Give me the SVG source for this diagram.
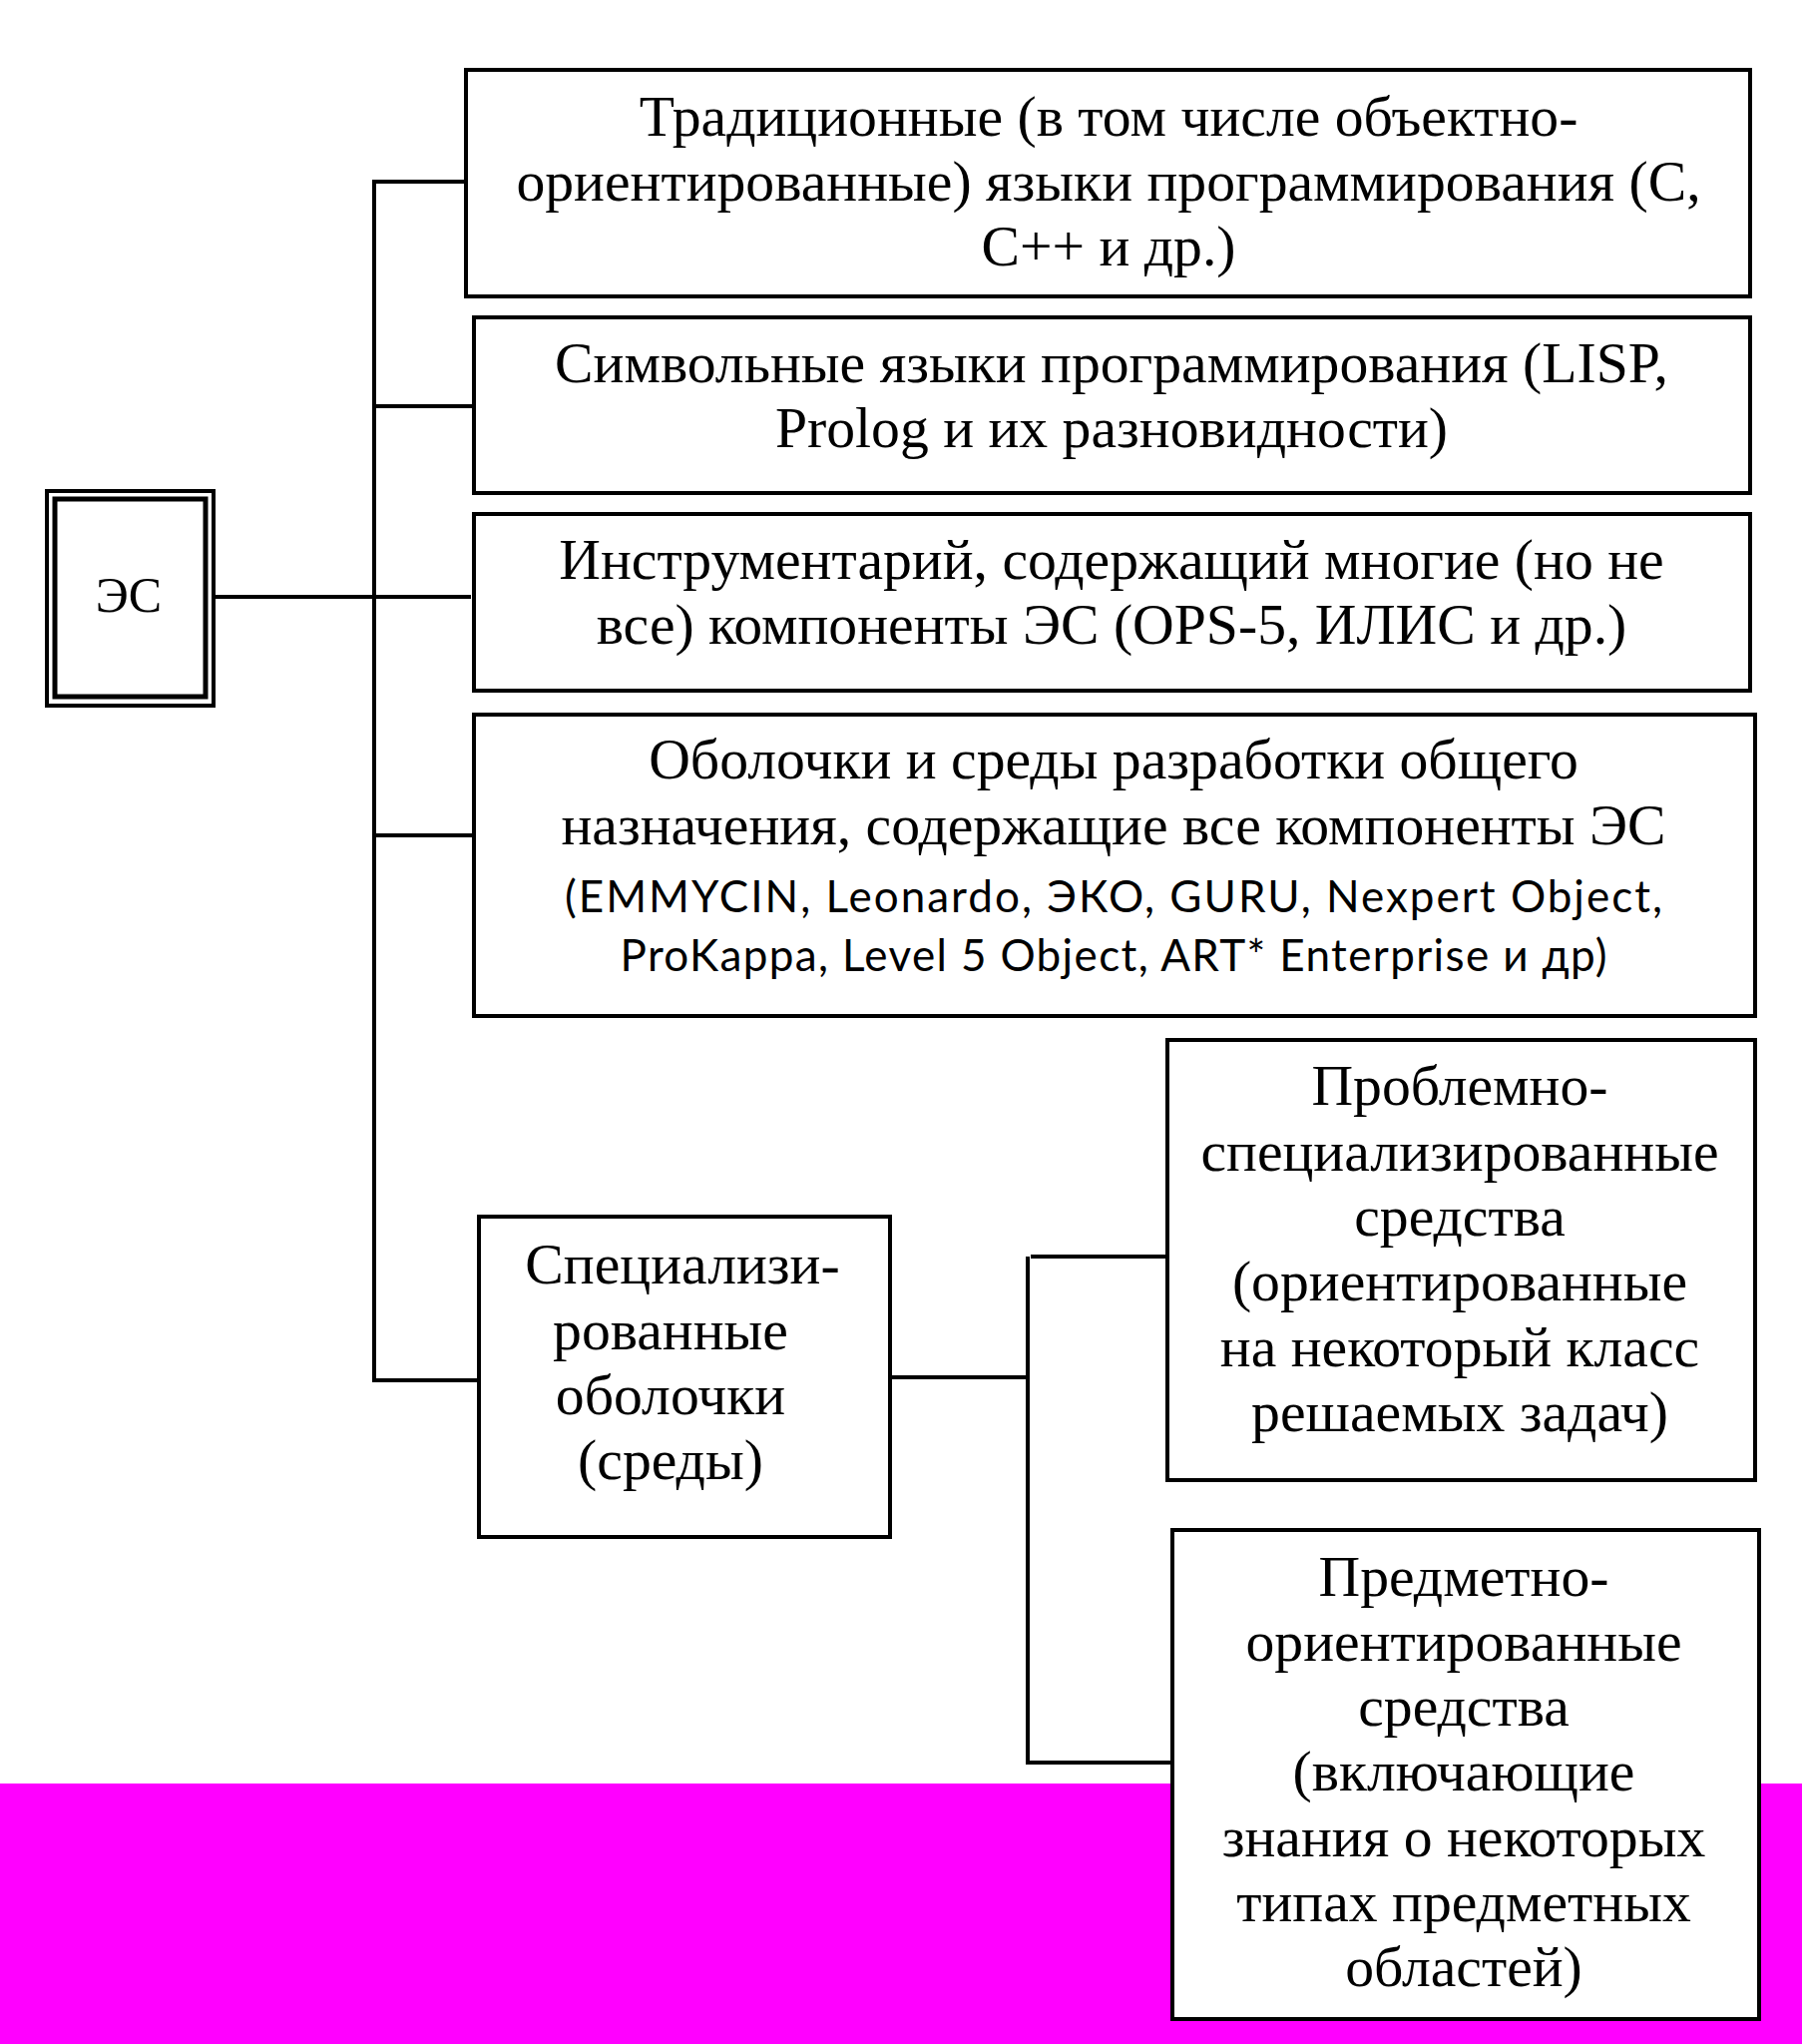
<svg xmlns="http://www.w3.org/2000/svg" width="1806" height="2048" viewBox="0 0 1806 2048">
<style>
.box{fill:#fff;stroke:#000;stroke-width:4}
.ln{stroke:#000;stroke-width:4;fill:none}
.t{font-family:"Liberation Serif","Times New Roman",serif;font-size:57.7px;text-anchor:middle;fill:#000}
.s{font-family:Lato,"Liberation Sans",sans-serif;font-size:44px;text-anchor:middle;fill:#000}
</style>
<rect x="0" y="1787" width="1806" height="261" fill="#ff00ff"/>
<g id="connectors">
<line class="ln" x1="214" y1="598" x2="472" y2="598"/>
<polyline class="ln" points="467,182 375,182 375,1383 480,1383"/>
<line class="ln" x1="375" y1="407" x2="475" y2="407"/>
<line class="ln" x1="375" y1="837" x2="475" y2="837"/>
<line class="ln" x1="892" y1="1380" x2="1030" y2="1380"/>
<polyline class="ln" points="1030,1259 1030,1766 1175,1766"/>
<line class="ln" x1="1033" y1="1259" x2="1170" y2="1259"/>
</g>
<g id="es">
<rect x="47" y="492" width="167" height="215" fill="#fff" stroke="#000" stroke-width="4"/>
<rect x="55" y="500" width="151" height="198" fill="none" stroke="#000" stroke-width="5"/>
<text class="t" x="129" y="613" style="font-size:50px">ЭС</text>
</g>
<g id="n1">
<rect class="box" x="467" y="70" width="1287" height="227"/>
<text class="t" x="1111" y="136">Традиционные (в том числе объектно-</text>
<text class="t" x="1111" y="201">ориентированные) языки программирования (С,</text>
<text class="t" x="1111" y="266">С++ и др.)</text>
</g>
<g id="n2">
<rect class="box" x="475" y="318" width="1279" height="176"/>
<text class="t" x="1114" y="383">Символьные языки программирования (LISP,</text>
<text class="t" x="1114" y="448">Prolog и их разновидности)</text>
</g>
<g id="n3">
<rect class="box" x="475" y="515" width="1279" height="177"/>
<text class="t" x="1114" y="580">Инструментарий, содержащий многие (но не</text>
<text class="t" x="1114" y="645">все) компоненты ЭС (OPS-5, ИЛИС и др.)</text>
</g>
<g id="n4">
<rect class="box" x="475" y="716" width="1284" height="302"/>
<text class="t" x="1116" y="780">Оболочки и среды разработки общего</text>
<text class="t" x="1116" y="846">назначения, содержащие все компоненты ЭС</text>
<text class="s" x="1116" y="914" textLength="1100">(EMMYCIN, Leonardo, ЭКО, GURU, Nexpert Object,</text>
<text class="s" x="1116" y="973" textLength="989">ProKappa, Level 5 Object, ART* Enterprise и др)</text>
</g>
<g id="n5">
<rect class="box" x="480" y="1219" width="412" height="321"/>
<text class="t" x="684" y="1286">Специализи-</text>
<text class="t" x="672" y="1352">рованные</text>
<text class="t" x="672" y="1417">оболочки</text>
<text class="t" x="672" y="1482">(среды)</text>
</g>
<g id="n6">
<rect class="box" x="1170" y="1042" width="589" height="441"/>
<text class="t" x="1463" y="1107">Проблемно-</text>
<text class="t" x="1463" y="1173">специализированные</text>
<text class="t" x="1463" y="1238">средства</text>
<text class="t" x="1463" y="1303">(ориентированные</text>
<text class="t" x="1463" y="1369">на некоторый класс</text>
<text class="t" x="1463" y="1434">решаемых задач)</text>
</g>
<g id="n7">
<rect class="box" x="1175" y="1533" width="588" height="490"/>
<text class="t" x="1467" y="1599">Предметно-</text>
<text class="t" x="1467" y="1664">ориентированные</text>
<text class="t" x="1467" y="1729">средства</text>
<text class="t" x="1467" y="1794">(включающие</text>
<text class="t" x="1467" y="1860">знания о некоторых</text>
<text class="t" x="1467" y="1925">типах предметных</text>
<text class="t" x="1467" y="1990">областей)</text>
</g>
</svg>
